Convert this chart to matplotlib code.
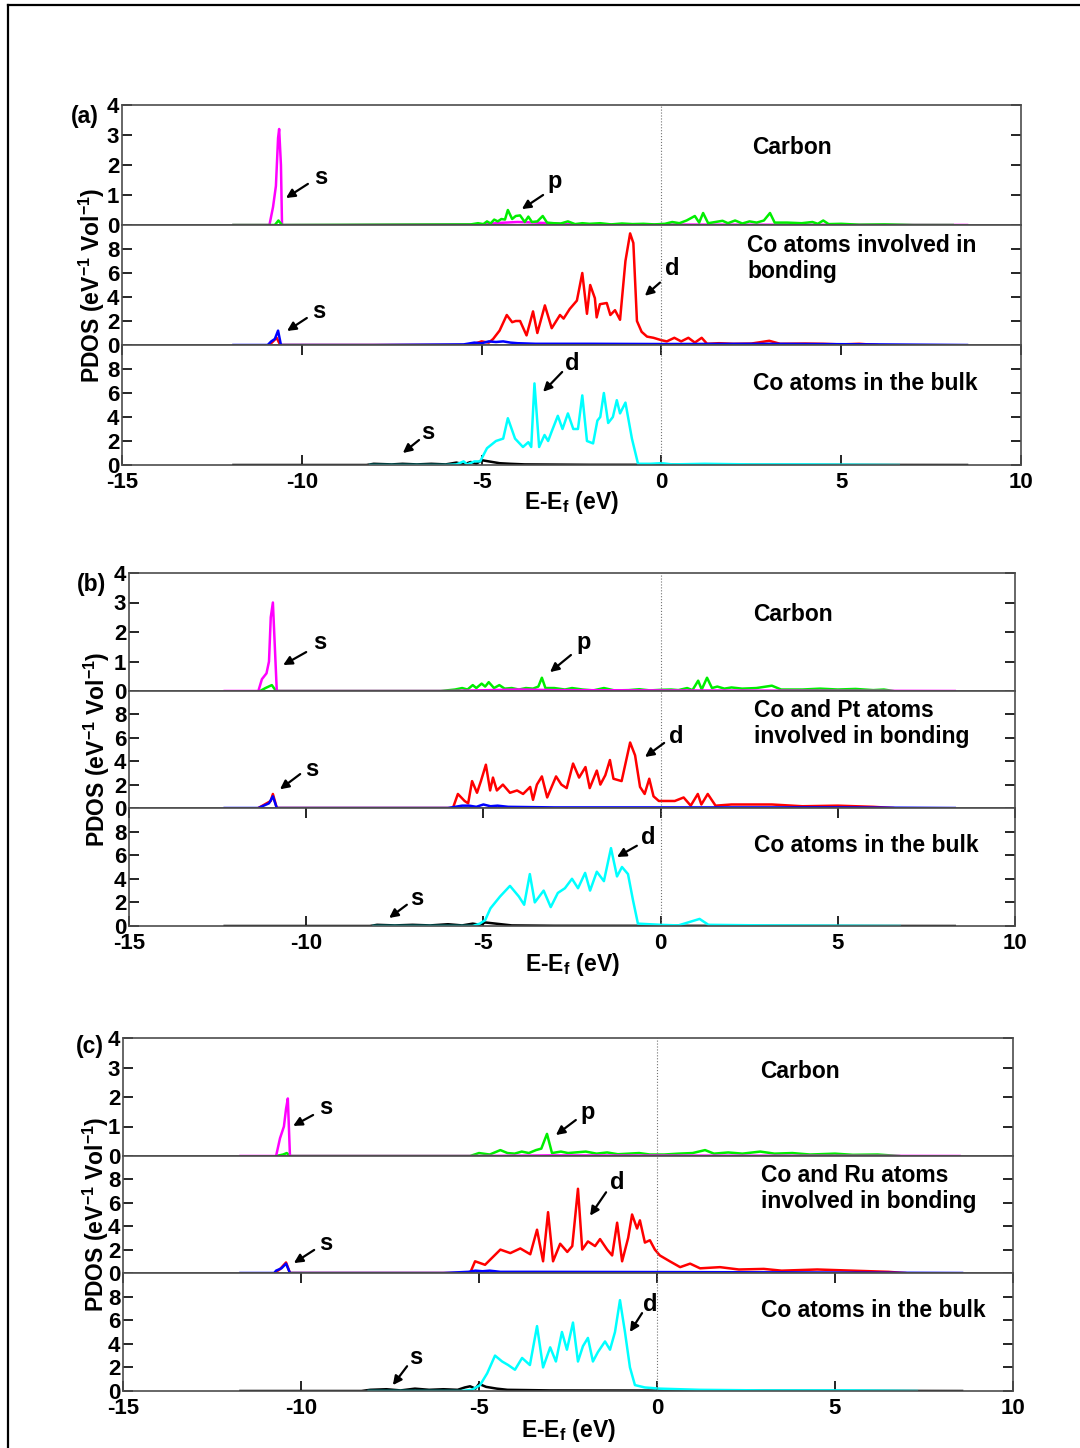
import numpy as np
import matplotlib
matplotlib.use('Agg')
import matplotlib.pyplot as plt

plt.rcParams['font.family'] = ['Liberation Sans', 'DejaVu Sans']
plt.rcParams['font.weight'] = 'bold'
plt.rcParams['axes.unicode_minus'] = False
plt.rcParams['mathtext.fontset'] = 'custom'
plt.rcParams['mathtext.rm'] = 'Liberation Sans:bold'
plt.rcParams['mathtext.it'] = 'Liberation Sans:bold'
plt.rcParams['mathtext.bf'] = 'Liberation Sans:bold'

# ---------------- data: (energy eV, PDOS) ----------------
# (a) pure Co
a_c_s = [(-11.9, 0), (-10.9, 0), (-10.8, 0.6), (-10.72, 1.3), (-10.66, 2.9), (-10.63, 3.2), (-10.58, 2.0),
         (-10.55, 0), (-9.0, 0), (-5.0, 0.02), (-4.5, 0.07), (-4.0, 0.1), (-3.5, 0.08), (-3.0, 0.05),
         (-2.5, 0.02), (2.0, 0.01), (8.5, 0)]
a_c_p = [(-11.9, 0), (-10.75, 0), (-10.65, 0.15), (-10.55, 0), (-5.3, 0.02), (-5.1, 0.06), (-4.95, 0.03),
         (-4.85, 0.12), (-4.75, 0.05), (-4.65, 0.18), (-4.55, 0.12), (-4.45, 0.2), (-4.35, 0.18), (-4.27, 0.5),
         (-4.15, 0.2), (-4.05, 0.3), (-3.93, 0.32), (-3.8, 0.1), (-3.7, 0.28), (-3.6, 0.1), (-3.45, 0.12),
         (-3.3, 0.3), (-3.18, 0.08), (-3.0, 0.06), (-2.8, 0.05), (-2.6, 0.12), (-2.4, 0.03), (-2.2, 0.06),
         (-2.0, 0.04), (-1.7, 0.06), (-1.4, 0.02), (-1.1, 0.05), (-0.8, 0.03), (-0.5, 0.04), (-0.2, 0.02),
         (0.1, 0.04), (0.3, 0.1), (0.5, 0.06), (0.7, 0.15), (0.93, 0.3), (1.05, 0.08), (1.16, 0.4), (1.3, 0.06),
         (1.5, 0.1), (1.7, 0.14), (1.85, 0.06), (2.05, 0.15), (2.25, 0.05), (2.45, 0.12), (2.65, 0.08),
         (2.85, 0.15), (3.02, 0.4), (3.15, 0.08), (3.5, 0.08), (3.9, 0.06), (4.2, 0.1), (4.35, 0.04),
         (4.5, 0.15), (4.65, 0.03), (5.0, 0.04), (5.5, 0.01), (6.2, 0.02), (7.0, 0.0), (8.1, 0)]
a_co_s = [(-11.9, 0), (-10.95, 0), (-10.85, 0.3), (-10.75, 0.5), (-10.66, 1.2), (-10.58, 0), (-8.0, 0),
          (-5.5, 0.05), (-5.2, 0.2), (-5.0, 0.15), (-4.8, 0.3), (-4.6, 0.25), (-4.4, 0.3), (-4.2, 0.2),
          (-4.0, 0.15), (-3.5, 0.1), (-2.0, 0.1), (0, 0.08), (3, 0.1), (6, 0.05), (8.5, 0)]
a_co_d = [(-10.9, 0), (-10.7, 0.6), (-10.6, 0), (-5.4, 0), (-5.2, 0.1), (-5.0, 0.3), (-4.8, 0.2), (-4.68, 0.5),
          (-4.5, 1.2), (-4.3, 2.5), (-4.15, 1.9), (-4.05, 2.0), (-3.93, 2.0), (-3.75, 0.8), (-3.57, 2.8),
          (-3.45, 1.0), (-3.24, 3.3), (-3.05, 1.4), (-2.82, 2.5), (-2.72, 2.2), (-2.55, 3.0), (-2.35, 3.7),
          (-2.2, 6.0), (-2.07, 2.6), (-1.98, 5.0), (-1.85, 3.9), (-1.8, 2.3), (-1.71, 3.4), (-1.52, 3.5),
          (-1.42, 2.5), (-1.29, 2.9), (-1.15, 2.1), (-1.0, 7.0), (-0.87, 9.3), (-0.78, 8.5), (-0.68, 2.0),
          (-0.55, 1.1), (-0.4, 0.7), (-0.22, 0.6), (0.0, 0.4), (0.15, 0.3), (0.36, 0.6), (0.55, 0.3),
          (0.75, 0.6), (0.93, 0.2), (1.12, 0.6), (1.27, 0.1), (1.6, 0.15), (2.0, 0.1), (2.5, 0.12),
          (3.0, 0.35), (3.3, 0.1), (4.0, 0.12), (4.5, 0.1), (5.0, 0.05), (5.5, 0.1), (6.0, 0.0)]
a_bulk_s = [(-11.9, 0), (-8.2, 0), (-8.0, 0.1), (-7.5, 0.05), (-7.2, 0.1), (-6.8, 0.05), (-6.4, 0.1),
            (-6.0, 0.05), (-5.7, 0.2), (-5.5, 0.05), (-5.3, 0.25), (-5.15, 0.1), (-5.0, 0.4), (-4.8, 0.3),
            (-4.5, 0.15), (-4.2, 0.1), (-3.8, 0.05), (-2, 0.02), (8.5, 0)]
a_bulk_d = [(-8.1, 0), (-6.0, 0), (-5.7, 0.05), (-5.5, 0.3), (-5.4, 0.05), (-5.2, 0.3), (-5.04, 0.3),
            (-4.85, 1.4), (-4.6, 2.0), (-4.4, 2.2), (-4.27, 3.9), (-4.07, 2.2), (-3.85, 1.5), (-3.7, 1.9),
            (-3.62, 1.5), (-3.53, 6.8), (-3.4, 1.5), (-3.25, 2.5), (-3.15, 2.0), (-3.05, 2.8), (-2.88, 4.1),
            (-2.75, 3.0), (-2.6, 4.3), (-2.45, 3.0), (-2.32, 3.0), (-2.2, 5.8), (-2.07, 2.0), (-1.9, 1.8),
            (-1.78, 3.7), (-1.7, 4.0), (-1.6, 6.0), (-1.48, 3.5), (-1.35, 4.0), (-1.24, 5.4), (-1.15, 4.3),
            (-1.0, 5.2), (-0.82, 2.2), (-0.65, 0.1), (-0.3, 0.1), (0.0, 0.15), (0.3, 0.05), (1.2, 0.1),
            (2.5, 0.05), (4.0, 0.05), (6.6, 0)]

# (b) Co + Pt
b_c_s = [(-12.3, 0), (-11.35, 0), (-11.25, 0.4), (-11.12, 0.6), (-11.05, 1.0), (-11.0, 2.5), (-10.94, 3.0),
         (-10.83, 0), (-6, 0), (-4.0, 0.05), (-3.0, 0.03), (0, 0.02), (8.3, 0)]
b_c_p = [(-11.3, 0), (-11.15, 0.1), (-10.97, 0.2), (-10.85, 0), (-6.2, 0), (-5.8, 0.05), (-5.6, 0.1),
         (-5.45, 0.05), (-5.3, 0.2), (-5.2, 0.1), (-5.05, 0.25), (-4.95, 0.15), (-4.85, 0.3), (-4.7, 0.1),
         (-4.55, 0.2), (-4.4, 0.08), (-4.2, 0.1), (-4.0, 0.05), (-3.8, 0.1), (-3.6, 0.08), (-3.45, 0.15),
         (-3.35, 0.45), (-3.25, 0.1), (-3.0, 0.1), (-2.7, 0.05), (-2.5, 0.1), (-2.2, 0.05), (-1.9, 0.02),
         (-1.6, 0.1), (-1.3, 0.02), (-0.9, 0.03), (-0.6, 0.06), (-0.3, 0.02), (0.0, 0.04), (0.3, 0.05),
         (0.5, 0.03), (0.75, 0.1), (0.9, 0.03), (1.06, 0.35), (1.16, 0.05), (1.31, 0.45), (1.45, 0.1),
         (1.6, 0.15), (1.8, 0.08), (2.0, 0.12), (2.3, 0.08), (2.7, 0.1), (3.14, 0.18), (3.4, 0.05),
         (4.0, 0.05), (4.5, 0.08), (5.0, 0.05), (5.5, 0.07), (6.0, 0.03), (6.3, 0.05), (6.56, 0)]
b_co_s = [(-12.3, 0), (-11.35, 0), (-11.2, 0.2), (-11.05, 0.4), (-10.94, 1.0), (-10.83, 0), (-6.0, 0),
          (-5.8, 0.1), (-5.6, 0.2), (-5.4, 0.2), (-5.2, 0.1), (-5.0, 0.3), (-4.8, 0.15), (-4.6, 0.2),
          (-4.3, 0.1), (-3.0, 0.05), (0, 0.05), (5, 0.05), (8.3, 0)]
b_co_d = [(-11.35, 0), (-11.0, 0.6), (-10.94, 1.2), (-10.83, 0), (-5.86, 0), (-5.72, 1.2), (-5.53, 0.6),
          (-5.43, 0.4), (-5.32, 2.3), (-5.18, 1.3), (-5.07, 2.3), (-4.93, 3.7), (-4.81, 1.5), (-4.73, 2.6),
          (-4.62, 1.5), (-4.45, 2.0), (-4.25, 1.3), (-4.05, 1.5), (-3.88, 1.2), (-3.68, 1.8), (-3.6, 0.7),
          (-3.49, 2.0), (-3.35, 2.7), (-3.2, 0.9), (-2.95, 2.7), (-2.8, 2.0), (-2.65, 1.7), (-2.47, 3.8),
          (-2.3, 2.6), (-2.12, 3.5), (-2.0, 1.7), (-1.8, 3.2), (-1.7, 2.0), (-1.56, 2.8), (-1.43, 4.1),
          (-1.33, 2.5), (-1.1, 2.3), (-0.86, 5.6), (-0.72, 4.5), (-0.58, 1.8), (-0.45, 1.2), (-0.32, 2.5),
          (-0.2, 1.0), (-0.05, 0.6), (0.4, 0.6), (0.65, 0.9), (0.85, 0.2), (1.05, 1.2), (1.15, 0.3),
          (1.33, 1.2), (1.55, 0.2), (2.0, 0.3), (3.14, 0.3), (4.0, 0.15), (5.0, 0.2), (6.0, 0.1), (6.56, 0)]
b_bulk_s = [(-12.3, 0), (-8.2, 0), (-8.0, 0.1), (-7.5, 0.05), (-7.0, 0.1), (-6.5, 0.05), (-6.0, 0.15),
            (-5.6, 0.05), (-5.3, 0.2), (-5.1, 0.1), (-4.95, 0.3), (-4.8, 0.25), (-4.5, 0.15), (-4.2, 0.05),
            (-3, 0.02), (8.3, 0)]
b_bulk_d = [(-8.1, 0), (-5.3, 0), (-5.1, 0.2), (-4.95, 0.5), (-4.8, 1.5), (-4.53, 2.5), (-4.25, 3.4),
            (-4.0, 2.5), (-3.85, 1.8), (-3.69, 4.4), (-3.55, 2.0), (-3.3, 3.0), (-3.1, 1.6), (-2.9, 2.8),
            (-2.7, 3.2), (-2.5, 4.0), (-2.33, 3.2), (-2.13, 4.5), (-1.99, 3.0), (-1.8, 4.6), (-1.6, 3.8),
            (-1.4, 6.6), (-1.23, 4.2), (-1.09, 5.0), (-0.92, 4.4), (-0.78, 2.2), (-0.64, 0.2), (0.0, 0.1),
            (0.5, 0.05), (1.1, 0.6), (1.35, 0.1), (3, 0.05), (6.75, 0)]

# (c) Co + Ru
c_c_s = [(-11.7, 0), (-10.7, 0), (-10.59, 0.6), (-10.48, 1.0), (-10.42, 1.6), (-10.37, 1.95), (-10.31, 0),
         (-5, 0), (-3, 0.02), (8.5, 0)]
c_c_p = [(-10.7, 0), (-10.5, 0.05), (-10.4, 0.1), (-10.3, 0), (-5.25, 0), (-5.0, 0.1), (-4.7, 0.05),
         (-4.5, 0.15), (-4.4, 0.2), (-4.2, 0.1), (-4.0, 0.08), (-3.8, 0.15), (-3.6, 0.1), (-3.4, 0.2),
         (-3.25, 0.25), (-3.09, 0.75), (-2.95, 0.1), (-2.7, 0.15), (-2.5, 0.1), (-2.3, 0.12), (-2.0, 0.15),
         (-1.7, 0.08), (-1.4, 0.12), (-1.1, 0.06), (-0.8, 0.08), (-0.5, 0.1), (-0.2, 0.05), (0.2, 0.05),
         (0.6, 0.08), (1.0, 0.1), (1.35, 0.2), (1.6, 0.08), (2.0, 0.12), (2.4, 0.08), (2.9, 0.15), (3.3, 0.08),
         (3.8, 0.1), (4.3, 0.05), (5.0, 0.08), (5.5, 0.04), (6.2, 0.05), (6.8, 0)]
c_co_s = [(-11.7, 0), (-10.75, 0), (-10.7, 0.2), (-10.55, 0.4), (-10.42, 0.8), (-10.31, 0), (-6, 0),
          (-5.3, 0.1), (-5.1, 0.2), (-4.9, 0.15), (-4.7, 0.2), (-4.4, 0.1), (-3.5, 0.1), (0, 0.08),
          (4, 0.05), (8.57, 0)]
c_co_d = [(-10.75, 0), (-10.6, 0.3), (-10.42, 0.9), (-10.31, 0), (-5.25, 0), (-5.11, 1.0), (-4.83, 0.7),
          (-4.4, 2.0), (-4.12, 1.7), (-3.84, 2.1), (-3.56, 1.6), (-3.37, 3.7), (-3.2, 1.0), (-3.06, 5.2),
          (-2.92, 1.0), (-2.72, 2.5), (-2.52, 1.8), (-2.38, 2.3), (-2.22, 7.2), (-2.1, 2.0), (-1.94, 2.7),
          (-1.74, 2.3), (-1.6, 2.9), (-1.4, 2.0), (-1.26, 1.5), (-1.12, 4.3), (-0.98, 1.0), (-0.81, 3.0),
          (-0.7, 5.0), (-0.56, 3.8), (-0.48, 4.5), (-0.34, 2.6), (-0.2, 2.8), (-0.06, 2.0), (0.08, 1.5),
          (0.36, 1.0), (0.65, 0.5), (0.93, 0.8), (1.21, 0.4), (1.77, 0.5), (2.3, 0.3), (3.0, 0.35),
          (3.5, 0.2), (4.5, 0.3), (5.5, 0.2), (6.5, 0.1), (6.97, 0)]
c_bulk_s = [(-11.7, 0), (-8.3, 0), (-8.06, 0.1), (-7.6, 0.15), (-7.2, 0.05), (-6.8, 0.2), (-6.4, 0.1),
            (-6.0, 0.15), (-5.6, 0.1), (-5.4, 0.3), (-5.25, 0.4), (-5.1, 0.2), (-5.0, 0.6), (-4.8, 0.35),
            (-4.5, 0.2), (-4.2, 0.1), (-3.0, 0.05), (8.57, 0)]
c_bulk_d = [(-8.1, 0), (-5.5, 0), (-5.2, 0.1), (-4.97, 0.5), (-4.77, 1.5), (-4.55, 3.0), (-4.35, 2.5),
            (-4.18, 2.2), (-3.99, 1.8), (-3.79, 2.8), (-3.57, 2.2), (-3.37, 5.5), (-3.2, 2.0), (-3.0, 3.7),
            (-2.84, 2.5), (-2.67, 5.0), (-2.53, 3.5), (-2.36, 5.8), (-2.22, 2.5), (-2.08, 3.8), (-1.94, 4.5),
            (-1.8, 2.5), (-1.66, 3.3), (-1.46, 4.2), (-1.32, 3.5), (-1.18, 5.0), (-1.04, 7.7), (-0.9, 5.0),
            (-0.76, 2.0), (-0.62, 0.5), (-0.34, 0.3), (0.08, 0.2), (1.2, 0.1), (3, 0.05), (5.5, 0.05), (7.3, 0)]

panel_names = ['(a)', '(b)', '(c)']
bond_labels = ['Co atoms involved in\nbonding', 'Co and Pt atoms\ninvolved in bonding',
               'Co and Ru atoms\ninvolved in bonding']
x_ticks = [-15, -10, -5, 0, 5, 10]

W, H = 1080, 1448
fig = plt.figure(figsize=(W / 100, H / 100), dpi=100)

# figure frame (top and left edges only, like the scan)
fig.add_artist(plt.Line2D([8 / W, 1], [1 - 5 / H] * 2, color='k', lw=1.6))
fig.add_artist(plt.Line2D([8 / W] * 2, [0, 1 - 5 / H], color='k', lw=1.6))

# pixel layout of each group: left, right, y of 4 panel boundaries
groups = [
    dict(left=122, right=1021, ys=[105, 225, 345, 465], ylab_x=92, xlab_y=503, tag=(85, 117)),
    dict(left=129, right=1015, ys=[573, 691, 808, 926], ylab_x=97, xlab_y=965, tag=(92, 584)),
    dict(left=123, right=1013, ys=[1038, 1156, 1273, 1391], ylab_x=96, xlab_y=1430, tag=(90, 1046)),
]
series = [
    [(a_c_s, a_c_p), (a_co_d, a_co_s), (a_bulk_s, a_bulk_d)],
    [(b_c_p, b_c_s), (b_co_d, b_co_s), (b_bulk_s, b_bulk_d)],
    [(c_c_p, c_c_s), (c_co_d, c_co_s), (c_bulk_s, c_bulk_d)],
]
colours = [
    [('#ff00ff', '#00ee00'), ('#ff0000', '#0000ff'), ('k', '#00ffff')],
    [('#00ee00', '#ff00ff'), ('#ff0000', '#0000ff'), ('k', '#00ffff')],
    [('#00ee00', '#ff00ff'), ('#ff0000', '#0000ff'), ('k', '#00ffff')],
]
# arrows: (text x, text y, label, tail, tip) in data units, per panel
arrows = [
    [[(-9.47, 1.6, 's', (-9.83, 1.37), (-10.44, 0.9)), (-2.96, 1.45, 'p', (-3.29, 1.0), (-3.88, 0.53))],
     [(0.3, 6.4, 'd', (-0.04, 5.2), (-0.46, 4.1)), (-9.52, 2.75, 's', (-9.86, 2.25), (-10.41, 1.17))],
     [(-2.49, 8.5, 'd', (-2.76, 7.75), (-3.29, 6.1)), (-6.49, 2.67, 's', (-6.74, 2.08), (-7.19, 1.0))]],
    [[(-9.61, 1.63, 's', (-10.0, 1.32), (-10.65, 0.88)), (-2.16, 1.66, 'p', (-2.53, 1.22), (-3.12, 0.64))],
     [(0.43, 6.07, 'd', (0.1, 5.56), (-0.44, 4.36)), (-9.84, 3.25, 's', (-10.17, 2.9), (-10.74, 1.6))],
     [(-0.36, 7.46, 'd', (-0.67, 6.8), (-1.23, 5.85)), (-6.87, 2.3, 's', (-7.16, 1.8), (-7.66, 0.68))]],
    [[(-9.3, 1.63, 's', (-9.66, 1.39), (-10.22, 1.02)), (-1.94, 1.46, 'p', (-2.28, 1.22), (-2.84, 0.71))],
     [(-1.12, 7.7, 'd', (-1.43, 6.9), (-1.88, 4.9)), (-9.3, 2.56, 's', (-9.63, 1.97), (-10.2, 0.85))],
     [(-0.2, 7.3, 'd', (-0.42, 6.6), (-0.76, 5.0)), (-6.77, 2.88, 's', (-7.02, 2.1), (-7.42, 0.5))]],
]

for g, grp in enumerate(groups):
    L, R, ys = grp['left'], grp['right'], grp['ys']
    axes = []
    for p in range(3):
        top, bot = ys[p], ys[p + 1]
        ax = fig.add_axes([L / W, 1 - bot / H, (R - L) / W, (bot - top) / H])
        axes.append(ax)
        for data, col in zip(series[g][p], colours[g][p]):
            e, v = np.array(data).T
            ax.plot(e, v, color=col, lw=1.8)
        ax.axvline(0, color='0.45', ls=':', lw=0.8)
        ax.set_xlim(-15, 10)
        if p == 0:
            ax.set_ylim(0, 4)
            ax.set_yticks([0, 1, 2, 3, 4])
        else:
            ax.set_ylim(0, 10)
            ax.set_yticks([0, 2, 4, 6, 8])
        ax.set_xticks(x_ticks)
        ax.tick_params(axis='y', direction='in', right=True, length=7, width=1.2,
                       labelsize=16, pad=2, colors='k')
        ax.tick_params(axis='x', direction='in', top=(p == 2), bottom=(p == 2), length=7,
                       width=1.2, labelsize=16, pad=5, labelbottom=(p == 2))
        for lab in ax.get_xticklabels() + ax.get_yticklabels():
            lab.set_fontweight('bold')
        for sp in ax.spines.values():
            sp.set_color('0.3')
            sp.set_linewidth(1.2)
        for tx, ty, s, tail, tip in arrows[g][p]:
            ax.text(tx, ty, s, fontsize=17, fontweight='bold', ha='center', va='center')
            ax.annotate('', xy=tip, xytext=tail,
                        arrowprops=dict(arrowstyle='-|>', color='k', lw=1.6, mutation_scale=13,
                                        shrinkA=0, shrinkB=0))

    # panel texts
    cx = [3.63, 3.74, 4.02][g]
    axes[0].text(cx, 2.6 if g < 2 else 2.85, 'Carbon', fontsize=16.5, fontweight='bold',
                 ha='center', va='center')
    bx = [2.38, 2.64, 2.92][g]
    axes[1].text(bx, 7.2, bond_labels[g], fontsize=16.5, fontweight='bold', ha='left',
                 va='center', linespacing=1.15)
    axes[2].text(bx + (0.17 if g == 0 else 0), 6.8, 'Co atoms in the bulk', fontsize=16.5,
                 fontweight='bold', ha='left', va='center')

    # axis labels
    fig.text(grp['ylab_x'] / W, 1 - (ys[0] + ys[3]) / 2 / H, r'PDOS (eV$^{-1}$ Vol$^{-1}$)',
             rotation=90, ha='center', va='center', fontsize=16.5, fontweight='bold')
    fig.text((L + R) / 2 / W, 1 - grp['xlab_y'] / H, r'E-E$_{f}$ (eV)', ha='center',
             va='center', fontsize=16.5, fontweight='bold')
    fig.text(grp['tag'][0] / W, 1 - grp['tag'][1] / H, panel_names[g], ha='center', va='center',
             fontsize=16.5, fontweight='bold')

fig.savefig('out.png', dpi=100)
